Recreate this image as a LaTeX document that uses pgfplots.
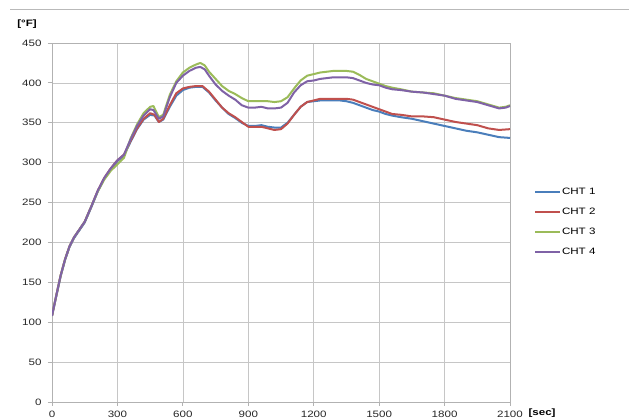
\documentclass[border=0pt]{standalone}
\usepackage{fontspec}
\setmainfont{Liberation Sans}[FakeStretch=1.25]
\usepackage{pgfplots}
\pgfplotsset{compat=1.18}
\definecolor{c1}{HTML}{4A7EBB}
\definecolor{c2}{HTML}{C0504D}
\definecolor{c3}{HTML}{9BBB59}
\definecolor{c4}{HTML}{7F62A6}
\begin{document}
\begin{tikzpicture}
\path[use as bounding box, fill=white] (0,0) rectangle (629bp,419bp);
\draw[gray!55, line width=0.8bp] (10bp,409.5bp) -- (629bp,409.5bp);
\begin{axis}[
  at={(52bp,17bp)}, anchor=south west,
  scale only axis, width=458bp, height=359bp,
  xmin=0, xmax=2100, ymin=0, ymax=450,
  xtick={0,300,...,2100}, ytick={0,50,...,450},
  grid=major, grid style={gray!45, line width=0.7bp},
  axis line style={gray!60, line width=0.8bp},
  tick style={gray!60, line width=0.8bp},
  tick align=outside, major tick length=4bp,
  xtick pos=bottom, ytick pos=left,
  /pgf/number format/assume math mode=true,
  /pgf/number format/1000 sep={},
  ticklabel style={font=\fontsize{9.3}{11}\selectfont, text=black!85},
  yticklabel style={xshift=-3bp},
  xticklabel style={yshift=-1.5bp},
  ylabel={\textbf{[°F]}},
  every axis y label/.style={at={(rel axis cs:-0.0546,1.054)}, anchor=center, font=\fontsize{9.3}{11}\selectfont},
  xlabel={\textbf{[sec]}},
  every axis x label/.style={at={(rel axis cs:1.07,-0.03)}, anchor=center, font=\fontsize{9.3}{11}\selectfont},
  legend style={at={(rel axis cs:1.052,0.603)}, anchor=north west, draw=none, fill=none,
    font=\fontsize{9.3}{11}\selectfont, row sep=8bp, inner sep=0pt,
    nodes={inner xsep=1bp}},
  legend cell align=left,
  legend image code/.code={\draw[#1] (0bp,0bp) -- (25bp,0bp);},
  every axis plot/.append style={line width=2bp, line join=round},
]
\addplot[c1] coordinates {
(0,108) (20,133) (40,158) (60,178) (80,194) (100,205) (120,213) (150,225) (180,244) (210,264) (240,280) (270,292) (300,302) (330,309) (360,326) (390,342) (420,354) (450,360) (470,359) (490,351) (510,354) (540,370) (570,384) (600,391) (630,394) (660,395) (690,395) (720,388) (750,378) (780,369) (810,361) (840,356) (870,350) (900,346) (930,346) (960,347) (990,345) (1020,344) (1050,344) (1080,350) (1110,360) (1140,370) (1170,376) (1200,377) (1230,378) (1260,378) (1290,378) (1320,378) (1350,377) (1380,375) (1410,372) (1440,369) (1470,366) (1500,364) (1530,361) (1560,359) (1600,357) (1650,355) (1700,352) (1750,349) (1800,346) (1850,343) (1900,340) (1950,338) (2000,335) (2050,332) (2100,331)
};
\addlegendentry{CHT 1}
\addplot[c2] coordinates {
(0,108) (20,134) (40,159) (60,179) (80,195) (100,206) (120,214) (150,226) (180,245) (210,265) (240,281) (270,293) (300,303) (330,310) (360,327) (390,343) (420,355) (450,362) (470,360) (490,351) (510,355) (540,372) (570,387) (600,393) (630,395) (660,396) (690,396) (720,389) (750,379) (780,369) (810,362) (840,357) (870,351) (900,345) (930,345) (960,345) (990,343) (1020,341) (1050,342) (1080,349) (1110,360) (1140,370) (1170,376) (1200,378) (1230,380) (1260,380) (1290,380) (1320,380) (1350,380) (1380,379) (1410,376) (1440,373) (1470,370) (1500,367) (1530,364) (1560,361) (1600,360) (1650,358) (1700,358) (1750,357) (1800,354) (1850,351) (1900,349) (1950,347) (2000,343) (2050,341) (2100,342)
};
\addlegendentry{CHT 2}
\addplot[c3] coordinates {
(0,108) (20,134) (40,159) (60,179) (80,195) (100,206) (120,214) (150,226) (180,245) (210,264) (240,279) (270,290) (300,298) (330,306) (360,330) (390,348) (420,362) (450,370) (465,371) (490,357) (510,360) (540,385) (570,402) (600,413) (630,419) (660,423) (680,425) (700,422) (720,414) (750,405) (780,396) (810,390) (840,386) (870,381) (900,377) (930,377) (960,377) (990,377) (1020,376) (1050,377) (1080,382) (1110,393) (1140,403) (1170,409) (1200,411) (1230,413) (1260,414) (1290,415) (1320,415) (1350,415) (1380,414) (1410,410) (1440,405) (1470,402) (1500,399) (1530,396) (1560,394) (1600,392) (1650,389) (1700,388) (1750,387) (1800,384) (1850,381) (1900,379) (1950,377) (2000,373) (2050,369) (2080,370) (2100,372)
};
\addlegendentry{CHT 3}
\addplot[c4] coordinates {
(0,108) (20,134) (40,159) (60,179) (80,195) (100,206) (120,214) (150,226) (180,245) (210,265) (240,281) (270,293) (300,303) (330,310) (360,329) (390,346) (420,359) (450,367) (465,366) (490,355) (510,358) (540,382) (570,400) (600,409) (630,415) (660,419) (680,420) (700,417) (720,409) (750,398) (780,390) (810,384) (840,379) (870,372) (900,369) (930,369) (960,370) (990,368) (1020,368) (1050,369) (1080,375) (1110,388) (1140,397) (1170,402) (1200,403) (1230,405) (1260,406) (1290,407) (1320,407) (1350,407) (1380,406) (1410,403) (1440,400) (1470,398) (1500,397) (1530,394) (1560,392) (1600,391) (1650,389) (1700,388) (1750,386) (1800,384) (1850,380) (1900,378) (1950,376) (2000,372) (2050,368) (2080,369) (2100,371)
};
\addlegendentry{CHT 4}
\end{axis}
\end{tikzpicture}
\end{document}
